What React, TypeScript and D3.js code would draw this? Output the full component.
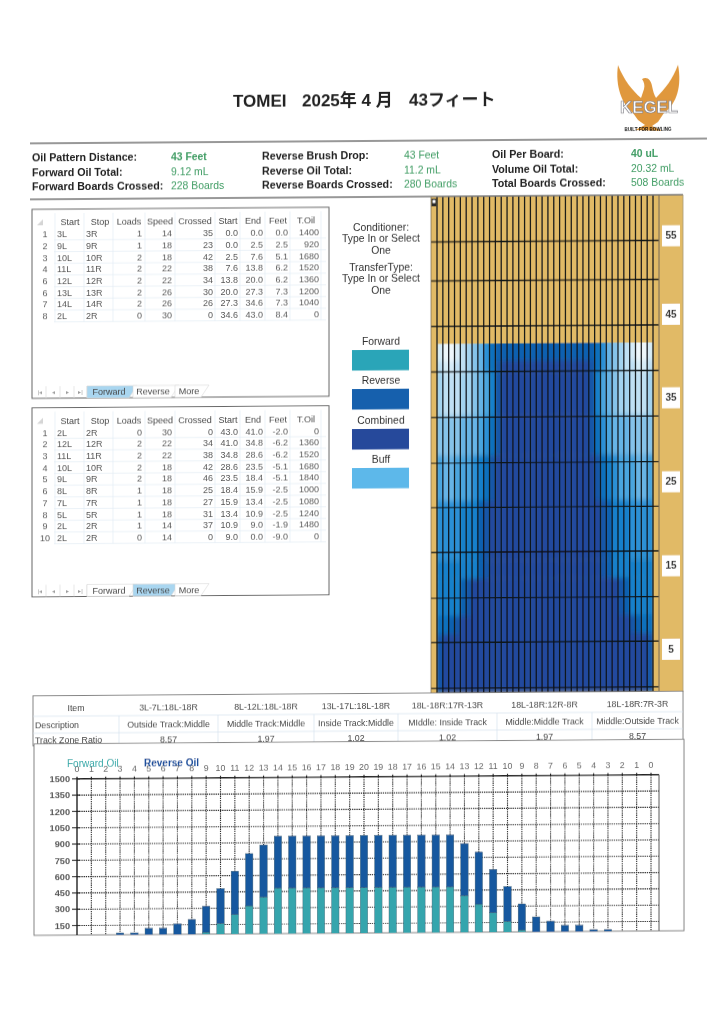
import * as d3 from "d3";

// page scan is sheared a little: everything is laid out at the page centre line
const SKEW = "translate(0,2.6) skewY(-0.41)";
const FONT = "'Liberation Sans', Arial, sans-serif";

const statLabels = [
  ["Oil Pattern Distance:", "Forward Oil Total:", "Forward Boards Crossed:"],
  ["Reverse Brush Drop:", "Reverse Oil Total:", "Reverse Boards Crossed:"],
  ["Oil Per Board:", "Volume Oil Total:", "Total Boards Crossed:"],
];
const statValues = [
  ["43 Feet", "9.12 mL", "228 Boards"],
  ["43 Feet", "11.2 mL", "280 Boards"],
  ["40 uL", "20.32 mL", "508 Boards"],
];

const tableHeaders = ["Start", "Stop", "Loads", "Speed", "Crossed", "Start", "End", "Feet", "T.Oil"];
const forwardRowIds = ["1", "2", "3", "4", "6", "6", "7", "8"];
const forwardRows = [
  ["3L", "3R", "1", "14", "35", "0.0", "0.0", "0.0", "1400"],
  ["9L", "9R", "1", "18", "23", "0.0", "2.5", "2.5", "920"],
  ["10L", "10R", "2", "18", "42", "2.5", "7.6", "5.1", "1680"],
  ["11L", "11R", "2", "22", "38", "7.6", "13.8", "6.2", "1520"],
  ["12L", "12R", "2", "22", "34", "13.8", "20.0", "6.2", "1360"],
  ["13L", "13R", "2", "26", "30", "20.0", "27.3", "7.3", "1200"],
  ["14L", "14R", "2", "26", "26", "27.3", "34.6", "7.3", "1040"],
  ["2L", "2R", "0", "30", "0", "34.6", "43.0", "8.4", "0"],
];
const reverseRowIds = ["1", "2", "3", "4", "5", "6", "7", "8", "9", "10"];
const reverseRows = [
  ["2L", "2R", "0", "30", "0", "43.0", "41.0", "-2.0", "0"],
  ["12L", "12R", "2", "22", "34", "41.0", "34.8", "-6.2", "1360"],
  ["11L", "11R", "2", "22", "38", "34.8", "28.6", "-6.2", "1520"],
  ["10L", "10R", "2", "18", "42", "28.6", "23.5", "-5.1", "1680"],
  ["9L", "9R", "2", "18", "46", "23.5", "18.4", "-5.1", "1840"],
  ["8L", "8R", "1", "18", "25", "18.4", "15.9", "-2.5", "1000"],
  ["7L", "7R", "1", "18", "27", "15.9", "13.4", "-2.5", "1080"],
  ["5L", "5R", "1", "18", "31", "13.4", "10.9", "-2.5", "1240"],
  ["2L", "2R", "1", "14", "37", "10.9", "9.0", "-1.9", "1480"],
  ["2L", "2R", "0", "14", "0", "9.0", "0.0", "-9.0", "0"],
];

const legendNames = ["Forward", "Reverse", "Combined", "Buff"];
const legendColors = ["#2ba5b8", "#1560ad", "#27489b", "#5db8ea"];

// pattern: oil shade per board (outside to centre, mirrored), for bands of feet
const bandFeet = [42.2, 40.1, 38.7, 33.5, 28.7, 23.2, 16, 13.8, 9.3, 7.1, 0];
const bandLevels = [
  [1, 0, 0, 1, 2, 3, 4, 5, 7, 9, 10, 10, 10, 10, 10, 10, 10, 10, 10],
  [2, 1, 1, 2, 2, 3, 4, 5, 7, 9, 11, 12, 12, 12, 12, 12, 12, 12, 12],
  [3, 2, 2, 2, 3, 3, 4, 5, 6, 8, 11, 12, 12, 12, 12, 12, 12, 12, 12],
  [4, 4, 4, 4, 5, 5, 5, 6, 7, 9, 11, 12, 12, 12, 12, 12, 12, 12, 12],
  [6, 5, 5, 6, 6, 6, 7, 8, 9, 11, 12, 12, 12, 12, 12, 12, 12, 12, 12],
  [7, 7, 7, 7, 8, 8, 8, 10, 11, 12, 12, 12, 12, 12, 12, 12, 12, 12, 12],
  [8, 8, 8, 8, 8, 8, 8, 10, 11, 12, 12, 12, 12, 12, 12, 12, 12, 12, 12],
  [8, 8, 8, 8, 10, 11, 12, 12, 12, 12, 12, 12, 12, 12, 12, 12, 12, 12, 12],
  [9, 9, 10, 11, 12, 12, 12, 12, 12, 12, 12, 12, 12, 12, 12, 12, 12, 12, 12],
  [11, 12, 12, 12, 12, 12, 12, 12, 12, 12, 12, 12, 12, 12, 12, 12, 12, 12, 12],
];
const shades = ["#eef7fb", "#d6ecf8", "#bfe0f4", "#a3d3f0", "#85c3ea", "#66b4e6", "#48a5df", "#2a90d6", "#1380cb", "#0b6fbd", "#0e60b0", "#1856a8", "#24489e"];
const gridFeet = [54.5, 49.8, 44.3, 38.8, 33.3, 27.8, 22.4, 17.0, 11.5, 6.1, 0.6];
const feetLabels = [5, 15, 25, 35, 45, 55];

const trackItems = ["Item", "3L-7L:18L-18R", "8L-12L:18L-18R", "13L-17L:18L-18R", "18L-18R:17R-13R", "18L-18R:12R-8R", "18L-18R:7R-3R"];
const trackDescriptions = ["Description", "Outside Track:Middle", "Middle Track:Middle", "Inside Track:Middle", "MIddle: Inside Track", "Middle:Middle Track", "Middle:Outside Track"];
const trackRatios = ["Track Zone Ratio", "8.57", "1.97", "1.02", "1.02", "1.97", "8.57"];

const boardLabels = [0, 1, 2, 3, 4, 5, 6, 7, 8, 9, 10, 11, 12, 13, 14, 15, 16, 17, 18, 19, 20, 19, 18, 17, 16, 15, 14, 13, 12, 11, 10, 9, 8, 7, 6, 5, 4, 3, 2, 1, 0];
const forwardOil = [0, 0, 0, 40, 40, 40, 40, 40, 40, 80, 160, 240, 320, 400, 480, 480, 480, 480, 480, 480, 480, 480, 480, 480, 480, 480, 480, 400, 320, 240, 160, 80, 40, 40, 40, 40, 40, 40, 0, 0, 0];
const reverseOil = [0, 0, 40, 40, 40, 80, 80, 120, 160, 240, 320, 400, 480, 480, 480, 480, 480, 480, 480, 480, 480, 480, 480, 480, 480, 480, 480, 480, 480, 400, 320, 240, 160, 120, 80, 80, 40, 40, 40, 0, 0];
const oilTicks = [150, 300, 450, 600, 750, 900, 1050, 1200, 1350, 1500];

const Header = () => {
  const colX = d3.scaleOrdinal<number, number>().domain([0, 1, 2]).range([32, 262, 492]);
  const valX = d3.scaleOrdinal<number, number>().domain([0, 1, 2]).range([171, 404, 631]);
  const rowY = d3.scaleOrdinal<number, number>().domain([0, 1, 2]).range([155, 170, 184]);
  const titleFont = "'Liberation Sans', 'Noto Sans CJK JP', sans-serif";
  return (
    <g fontFamily={FONT}>
      <g fontSize={17} fontWeight="bold" fill="#222" fontFamily={titleFont}>
        <text x={233} y={106}>TOMEI</text>
        <text x={302} y={106}>2025年 4 月</text>
        <text x={409} y={106}>43フィート</text>
      </g>
      <line x1={30} x2={707} y1={141} y2={141} stroke="#333" strokeWidth={1.2} />
      <line x1={30} x2={431} y1={197} y2={197} stroke="#333" strokeWidth={1.2} />
      {statLabels.map((col, c) =>
        col.map((label, r) => (
          <g key={label}>
            <text x={colX(c)} y={rowY(r)} dy=".35em" fontSize={10.7} fontWeight="bold" fill="#222">{label}</text>
            <text x={valX(c)} y={rowY(r)} dy=".35em" fontSize={10.4} fontWeight={r === 0 && c !== 1 ? "bold" : "normal"} fill="#3f9c63">{statValues[c][r]}</text>
          </g>
        ))
      )}
      {/* logo */}
      <path
        d="M618,67 C624,82 632,92 641,100 L644,91 C645,87 644,84 642,81 C647,78 651,82 652,88 C653,93 654,97 656,100 C665,91 673,81 678,67 C682,88 677,106 664,115 L658,124 L652,128 L662,133 L635,132 L645,127 L638,122 L633,115 C622,106 615,88 618,67 Z"
        fill="#e0983c"
      />
      <text x={649} y={115} textAnchor="middle" fontSize={17} textLength={58} lengthAdjust="spacingAndGlyphs" fontWeight="bold" fill="#fff" stroke="#77777f" strokeWidth={0.6}>KEGEL</text>
      <text x={648} y={133} textAnchor="middle" fontSize={5.4} textLength={47} lengthAdjust="spacingAndGlyphs" fontWeight="bold" fill="#111">BUILT FOR BOWLING</text>
    </g>
  );
};

const LoadTable = ({ top, bottom, ids, rows, active }: { top: number; bottom: number; ids: string[]; rows: string[][]; active: number }) => {
  const colRight = d3.scaleOrdinal<number, number>().domain(d3.range(9)).range([57, 86, 142, 172, 213, 238, 263, 288, 319]);
  const rowY = d3.scaleLinear().domain([0, 1]).range([top + 25, top + 36.7]);
  const headerX = [70, 100, 129, 160, 195, 228, 253, 278, 306];
  const tabY = bottom - 6;
  const tabs = [
    { name: "Forward", x: 87, w: 46 },
    { name: "Reverse", x: 133, w: 42 },
    { name: "More", x: 175, w: 30 },
  ];
  return (
    <g fontFamily={FONT}>
      <rect x={32} y={top} width={297} height={bottom - top} fill="#fff" stroke="#666" strokeWidth={1} />
      {rows.map((_, i) => (
        <line key={i} x1={54} x2={326} y1={rowY(i) + 5.8} y2={rowY(i) + 5.8} stroke="#e3edf5" strokeWidth={0.7} />
      ))}
      {[55, 84, 113, 145, 175, 215, 240, 265, 290, 321].map((x) => (
        <line key={x} x1={x} x2={x} y1={top + 4} y2={rowY(rows.length - 1) + 5.8} stroke="#e3edf5" strokeWidth={0.7} />
      ))}
      <path d={`M37,${top + 16} L43,${top + 16} L43,${top + 10} Z`} fill="#d5d5d5" />
      {tableHeaders.map((h, i) => (
        <text key={i} x={headerX[i]} y={top + 13} dy=".35em" textAnchor="middle" fontSize={9} fill="#444">{h}</text>
      ))}
      {rows.map((row, r) => (
        <g key={r} fontSize={9} fill="#555">
          <text x={45} y={rowY(r)} dy=".35em" textAnchor="middle">{ids[r]}</text>
          {row.map((cell, c) => (
            <text key={c} x={colRight(c)} y={rowY(r)} dy=".35em" textAnchor={c < 2 ? "start" : "end"}>{cell}</text>
          ))}
        </g>
      ))}
      {["|◂", "◂", "▸", "▸|"].map((g, i) => (
        <text key={i} x={40 + i * 13.5} y={tabY} dy=".35em" textAnchor="middle" fontSize={6} fill="#9a9a9a">{g}</text>
      ))}
      {[46, 60, 74, 87].map((x) => (
        <line key={x} x1={x} x2={x} y1={tabY - 6} y2={tabY + 6} stroke="#ddd" strokeWidth={0.7} />
      ))}
      {tabs.map((t, i) => (
        <g key={t.name}>
          <path
            d={`M${t.x},${tabY - 6} L${t.x + t.w + 4},${tabY - 6} L${t.x + t.w - 4},${tabY + 6} L${t.x},${tabY + 6} Z`}
            fill={i === active ? "#a9d6f0" : "#fff"}
            stroke="#d8d8d8"
            strokeWidth={0.6}
          />
          <text x={t.x + t.w / 2 - 1} y={tabY} dy=".35em" textAnchor="middle" fontSize={9} fill="#444">{t.name}</text>
        </g>
      ))}
    </g>
  );
};

const Notes = () => {
  const lines = [
    { t: "Conditioner:", y: 227 },
    { t: "Type In or Select", y: 238 },
    { t: "One", y: 250 },
    { t: "TransferType:", y: 267 },
    { t: "Type In or Select", y: 278 },
    { t: "One", y: 290 },
  ];
  const swatchTop = d3.scaleOrdinal<number, number>().domain([0, 1, 2, 3]).range([350, 389, 429, 468]);
  return (
    <g fontFamily={FONT} fontSize={10.4} fill="#333" textAnchor="middle">
      {lines.map((l, i) => (
        <text key={i} x={381} y={l.y} dy=".35em">{l.t}</text>
      ))}
      {legendNames.map((name, i) => (
        <g key={name}>
          <text x={381} y={swatchTop(i) - 8.5} dy=".35em">{name}</text>
          <rect x={352} y={swatchTop(i)} width={57} height={20.5} fill={legendColors[i]} />
        </g>
      ))}
    </g>
  );
};

const Pattern = () => {
  const boards = bandLevels[0].length * 2 - 1;
  const x = d3.scaleLinear().domain([0, boards]).range([437, 653]);
  const y = d3.scaleLinear().domain([0, 60]).range([693.8, 197]);
  const labelY = d3.scaleLinear().domain(feetLabels).range([651.5, 568, 484, 400, 316.5, 238]);
  const shade = d3.scaleOrdinal<number, string>().domain(d3.range(shades.length)).range(shades);
  const columns = d3.range(boards);
  return (
    <g fontFamily={FONT}>
      <defs>
        <filter id="oil-soft" x="-5%" y="-5%" width="110%" height="110%">
          <feGaussianBlur stdDeviation="0.9 2.5" />
        </filter>
        <clipPath id="oil-clip">
          <rect x={x(0)} y={y(bandFeet[0])} width={x(boards) - x(0)} height={y(0) - y(bandFeet[0])} />
        </clipPath>
      </defs>
      <rect x={431} y={y(60)} width={252} height={y(0) - y(60)} fill="#e1ba66" />
      <g clipPath="url(#oil-clip)">
        <g filter="url(#oil-soft)">
          {bandLevels.map((levels, b) =>
            columns.map((c) => {
              const level = levels[Math.min(c, boards - 1 - c)];
              const pad = b === 0 ? 8 : 0;
              return (
                <rect key={`${b}-${c}`} x={x(c)} y={y(bandFeet[b]) - pad} width={x(c + 1) - x(c) + 0.3} height={y(bandFeet[b + 1]) - y(bandFeet[b]) + pad + 0.3} fill={shade(level)} />
              );
            })
          )}
        </g>
      </g>
      {d3.range(boards + 1).map((c) => (
        <line key={c} x1={x(c)} x2={x(c)} y1={y(60)} y2={y(0)} stroke="#0e1218" strokeWidth={1.25} />
      ))}
      {gridFeet.map((f) => (
        <line key={f} x1={431} x2={659} y1={y(f)} y2={y(f)} stroke="#0e1218" strokeWidth={1.4} />
      ))}
      <line x1={431} x2={683} y1={y(60)} y2={y(60)} stroke="#777" strokeWidth={1.4} />
      <line x1={659} x2={659} y1={y(60)} y2={y(0)} stroke="#86765a" strokeWidth={1.2} />
      <line x1={431} x2={431} y1={y(60)} y2={y(0)} stroke="#86765a" strokeWidth={0.8} />
      <line x1={683} x2={683} y1={y(60)} y2={y(0)} stroke="#a89a78" strokeWidth={0.8} />
      <rect x={431.5} y={199} width={5} height={8} fill="#2a2a2a" />
      <rect x={432.5} y={200.5} width={3} height={3} fill="#fff" />
      {feetLabels.map((f) => (
        <g key={f}>
          <rect x={662} y={labelY(f) - 10.5} width={18} height={21} fill="#fff" />
          <text x={671} y={labelY(f)} dy=".35em" textAnchor="middle" fontSize={10} fontWeight="bold" fill="#333">{f}</text>
        </g>
      ))}
    </g>
  );
};

const TrackTable = () => {
  const edges = [33, 119, 218, 314, 398, 497, 592, 683];
  const rowY = d3.scaleOrdinal<number, number>().domain([0, 1, 2]).range([706, 722.5, 738]);
  const rows = [trackItems, trackDescriptions, trackRatios];
  return (
    <g fontFamily={FONT} fontSize={8.8} fill="#444">
      <rect x={33} y={693.5} width={650} height={50} fill="#fff" stroke="#777" strokeWidth={0.9} />
      {edges.slice(1, -1).map((e) => (
        <line key={e} x1={e} x2={e} y1={714} y2={744} stroke="#d5e3ee" strokeWidth={0.7} />
      ))}
      {[714, 731].map((v) => (
        <line key={v} x1={33} x2={683} y1={v} y2={v} stroke="#d5e3ee" strokeWidth={0.7} />
      ))}
      {rows.map((row, r) =>
        row.map((cell, c) => (
          <text
            key={c}
            x={c === 0 && r > 0 ? 35 : (edges[c] + edges[c + 1]) / 2}
            y={rowY(r)}
            dy=".35em"
            textAnchor={c === 0 && r > 0 ? "start" : "middle"}
          >
            {cell}
          </text>
        ))
      )}
    </g>
  );
};

const OilChart = () => {
  const x = d3.scalePoint<number>().domain(d3.range(boardLabels.length)).range([77, 651]);
  const y = d3.scaleLinear().domain([0, 1500]).range([939.8, 776.8]);
  const bottom = 933;
  const stacked = d3.stack<number>().keys(["forward", "reverse"]).value((i, key) => (key === "forward" ? forwardOil[i] : reverseOil[i]))(d3.range(boardLabels.length));
  const colors = ["#35a5ad", "#17599f"];
  return (
    <g fontFamily={FONT}>
      <rect x={34} y={741.6} width={650} height={191.4} fill="#fff" stroke="#777" strokeWidth={0.9} />
      <defs>
        <clipPath id="plot-clip">
          <rect x={34} y={742} width={650} height={bottom - 742} />
        </clipPath>
      </defs>
      {oilTicks.map((t) => (
        <g key={t}>
          <line x1={77} x2={659} y1={y(t)} y2={y(t)} stroke="#222" strokeWidth={t === 1500 ? 1.5 : 1.1} strokeDasharray={t === 1500 ? undefined : "1.3 0.9"} />
          <line x1={72} x2={80} y1={y(t)} y2={y(t)} stroke="#222" strokeWidth={1.1} />
          <text x={70} y={y(t)} dy=".35em" textAnchor="end" fontSize={9.2} fontWeight="bold" fill="#555">{t}</text>
        </g>
      ))}
      {boardLabels.map((b, i) => (
        <g key={i}>
          <line x1={x(i)} x2={x(i)} y1={y(1500) - 2} y2={bottom} stroke="#222" strokeWidth={i === 0 ? 1.4 : 1.1} strokeDasharray={i === 0 ? undefined : "1.3 0.9"} />
          <text x={x(i)} y={767} dy=".35em" textAnchor="middle" fontSize={8.8} fill="#666">{b}</text>
        </g>
      ))}
      <line x1={659} x2={659} y1={y(1500)} y2={bottom} stroke="#666" strokeWidth={1.1} />
      <g clipPath="url(#plot-clip)">
        {stacked.map((series, s) =>
          series.map((d, i) =>
            d[1] > d[0] ? (
              <rect key={`${s}-${i}`} x={(x(i) as number) - 3.7} y={y(d[1])} width={7.4} height={y(d[0]) - y(d[1])} fill={colors[s]} stroke="#3f5f70" strokeWidth={0.4} />
            ) : null
          )
        )}
      </g>
      <text x={67} y={762} dy=".35em" fontSize={10} fill="#38a9a9">Forward Oil</text>
      <text x={144} y={762} dy=".35em" fontSize={10} fontWeight="bold" fill="#1c4f9c">Reverse Oil</text>
    </g>
  );
};

export default function App() {
  return (
    <svg width={724} height={1024} viewBox="0 0 724 1024" style={{ position: "absolute", left: 0, top: 0, background: "#fff" }}>
      <defs>
        <filter id="scan-soft" filterUnits="userSpaceOnUse" x={0} y={0} width={724} height={1024}>
          <feGaussianBlur stdDeviation="0.3" />
        </filter>
      </defs>
      <g transform={SKEW} filter="url(#scan-soft)">
        <Header />
        <LoadTable top={207} bottom={396} ids={forwardRowIds} rows={forwardRows} active={0} />
        <LoadTable top={405.5} bottom={594.5} ids={reverseRowIds} rows={reverseRows} active={1} />
        <Notes />
        <Pattern />
        <TrackTable />
        <OilChart />
      </g>
    </svg>
  );
}
